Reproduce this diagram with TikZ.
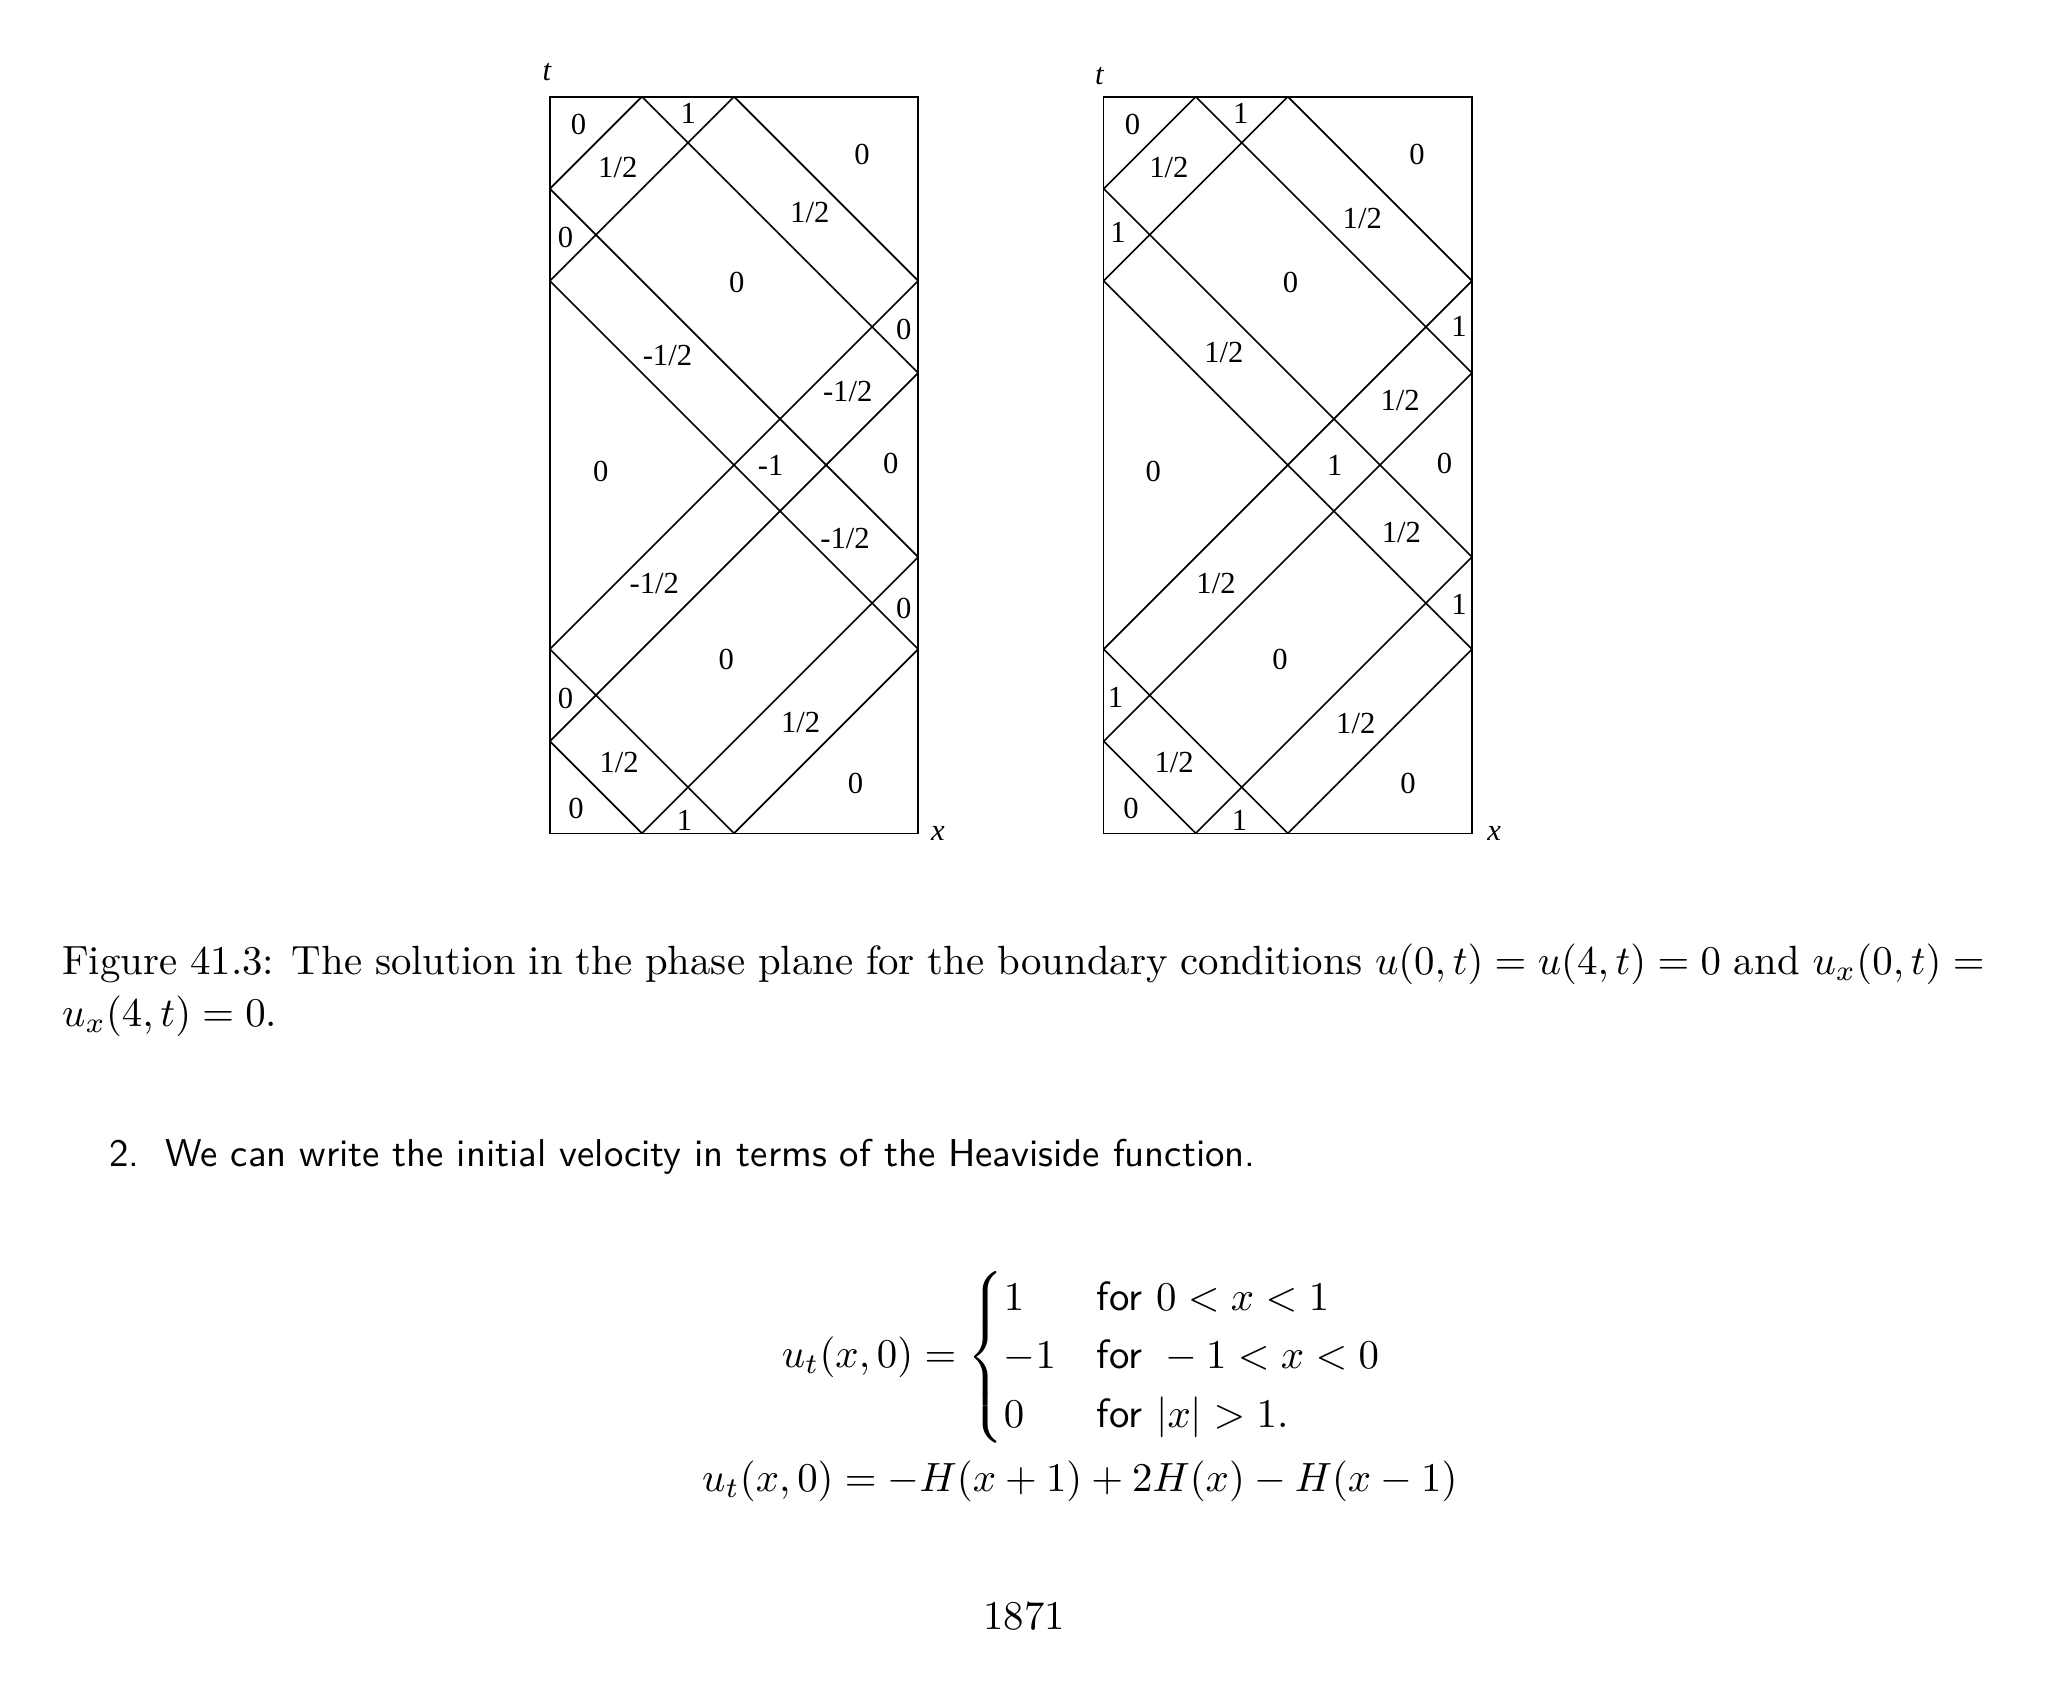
\documentclass[tikz,border=0pt]{standalone}
\usepackage{amsmath}
\usepackage{fontspec}
\newfontfamily\timesf{Liberation Serif}
\begin{document}
\begin{tikzpicture}[x=0.32pt,y=-0.32pt,
  lab/.style={font=\timesf\fontsize{7.5}{9}\selectfont,inner sep=0pt},
  ln/.style={line width=0.4pt}]
\useasboundingbox (0,0) rectangle (1568,1291);
\foreach \ox/\nm in {421/L,845/R}{
 \begin{scope}[shift={(\ox,638)},x=22.56pt,y=22.56pt]
  \draw[ln] (0,0) rectangle (4,8);
  \draw[ln] (1,8)--(0,7) (2,8)--(0,6) (1,8)--(4,5) (2,8)--(4,6)
   (1,0)--(0,1) (2,0)--(0,2) (1,0)--(4,3) (2,0)--(4,2)
   (0,1)--(4,5) (0,2)--(4,6) (0,7)--(4,3) (0,6)--(4,2);
 \end{scope}}
\foreach \p/\t in {{443,95}/0,{527,87}/1,{473,128}/1\slash2,{660,118}/0,{620,163}/1\slash2,{433,182}/0,{564,216}/0,{692,252}/0,{511,272}/-1\slash2,{649,300}/-1\slash2,{460,361}/0,{590,356}/-1,{682,355}/0,{647,412}/-1\slash2,{501,447}/-1\slash2,{692,466}/0,{556,505}/0,{433,535}/0,{613,553}/1\slash2,{474,584}/1\slash2,{655,600}/0,{441,619}/0,{524,628}/1}
 \node[lab] at (\p) {\t};
\foreach \p/\t in {{867,95}/0,{950,87}/1,{895,128}/1\slash2,{1085,118}/0,{1043,167}/1\slash2,{856,178}/1,{988,216}/0,{1117,250}/1,{937,270}/1\slash2,{1072,307}/1\slash2,{883,361}/0,{1022,356}/1,{1106,355}/0,{1073,408}/1\slash2,{931,447}/1\slash2,{1117,463}/1,{980,505}/0,{854,534}/1,{1038,554}/1\slash2,{899,584}/1\slash2,{1078,600}/0,{866,619}/0,{949,628}/1}
 \node[lab] at (\p) {\t};
\node[lab] (t1) at (419,55) {\textit{t}};
\node[lab] (x1) at (718,638) {\textit{x}};
\node[lab] (t2) at (842,58) {\textit{t}};
\node[lab] (x2) at (1144,638) {\textit{x}};
\node[anchor=north west,inner sep=0pt,text width=471pt,align=justify,font=\fontsize{10}{12.8}\selectfont] (cap) at (47,722)
 {Figure 41.3: The solution in the phase plane for the boundary conditions $u(0,t)=u(4,t)=0$ and $u_x(0,t)=$\linebreak $u_x(4,t)=0$.};
\node[anchor=west,inner sep=0pt,font=\sffamily\fontsize{9.5}{12}\selectfont] (item) at (83,886)
 {2.\ \ We can write the initial velocity in terms of the Heaviside function.};
\node[inner sep=0pt,anchor=west,font=\fontsize{10}{12}\selectfont] (eq1) at (598,1039)
 {$\displaystyle u_t(x,0)=\begin{cases}1 & \textsf{for } 0<x<1\\ -1 & \textsf{for } -1<x<0\\ 0 & \textsf{for } |x|>1.\end{cases}$};
\node[inner sep=0pt,anchor=west,font=\fontsize{9.7}{12}\selectfont] (eq2) at (537,1134)
 {$u_t(x,0)=-H(x+1)+2H(x)-H(x-1)$};
\node[inner sep=0pt,font=\fontsize{10}{12}\selectfont] (pg) at (784,1237) {1871};
\end{tikzpicture}
\end{document}
